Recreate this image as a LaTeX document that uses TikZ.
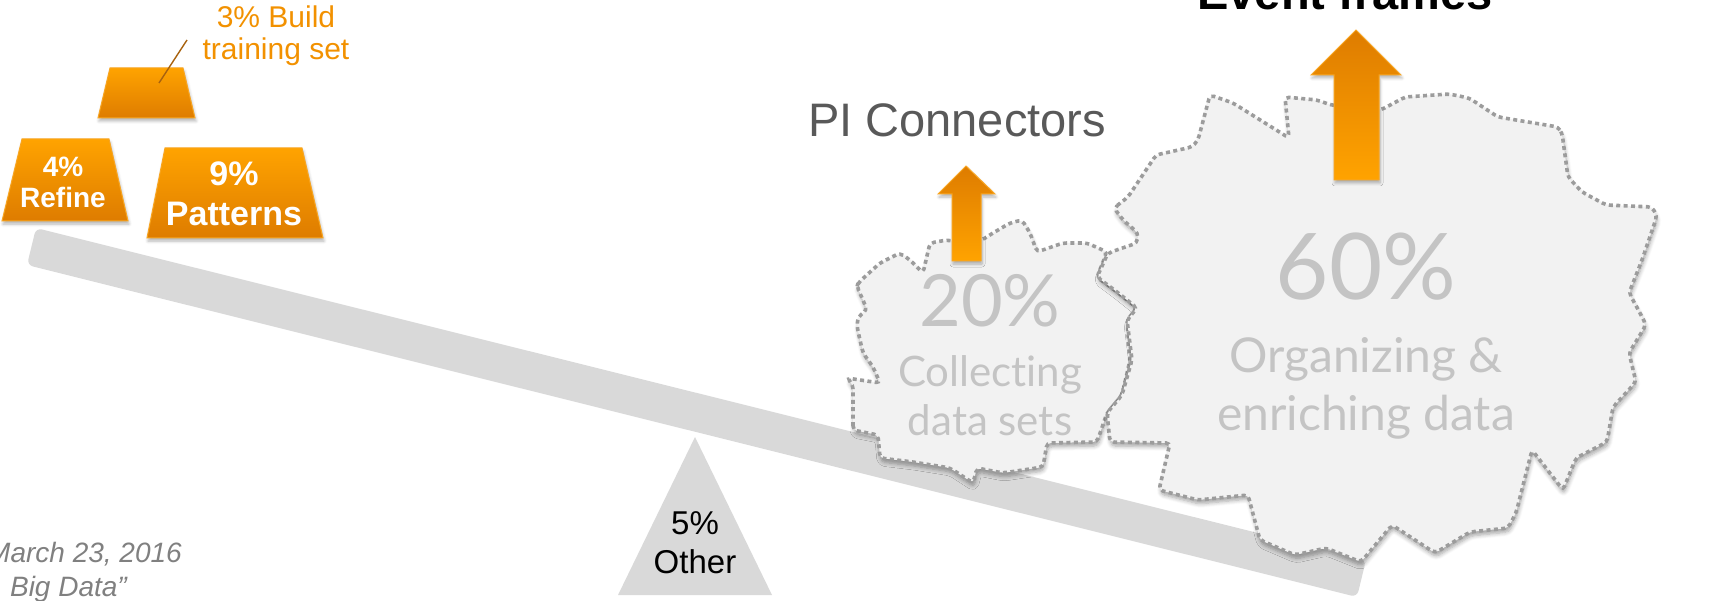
\documentclass[tikz,border=0pt]{standalone}
\usepackage{fontspec}
\setmainfont{Liberation Sans}
\newfontfamily\lato{Lato}[Ligatures={NoCommon}]
\usetikzlibrary{shadows,shadows.blur}
\definecolor{beamgray}{HTML}{D9D9D9}
\definecolor{orTop}{HTML}{FFA300}
\definecolor{orBot}{HTML}{DE7C00}
\definecolor{orEdge}{HTML}{F8A521}
\definecolor{blobFill}{HTML}{F2F2F2}
\definecolor{blobLine}{HTML}{9C9C9C}
\definecolor{blobText}{HTML}{C4C4C4}
\definecolor{piText}{HTML}{595959}
\definecolor{noteText}{HTML}{808080}
\definecolor{buildText}{HTML}{F29100}
\definecolor{leaderCol}{HTML}{A8620F}
\tikzset{
  fs/.style={font=\fontsize{#1}{#1}\selectfont},
  sh/.style={blur shadow={shadow xshift=1pt, shadow yshift=-3pt, shadow opacity=30, shadow blur steps=5, shadow blur radius=3pt}},
  trap/.style={top color=orTop, bottom color=orBot, draw=orEdge, line width=1pt, sh},
  uparrow/.style={top color=orBot, bottom color=orTop, draw=orEdge, line width=1pt, sh},
  blob/.style={fill=blobFill, draw=blobLine, line width=3.6pt, dash pattern=on 4pt off 3.4pt,
    rounded corners=4pt, blur shadow={shadow xshift=1pt, shadow yshift=-4pt, shadow opacity=35, shadow blur steps=6, shadow blur radius=4pt}},
  trtext/.style={text=white, inner sep=0pt, anchor=base, font=\bfseries\fontsize{#1}{#1}\selectfont},
  blobtext/.style={text=blobText, inner sep=0pt, anchor=base, font=\lato\fontsize{#1}{#1}\selectfont},
}
\begin{document}
\begin{tikzpicture}[x=1pt,y=-1pt]
\useasboundingbox (0,0) rectangle (1729,601);
\clip (0,0) rectangle (1729,601);

% beam and fulcrum
\fill[beamgray, rounded corners=6pt] (27,265) -- (36,228) -- (1366,560) -- (1357,597) -- cycle;
\fill[beamgray] (695,437) -- (772,595) -- (618,595) -- cycle;
\node[fs=33, inner sep=0pt, anchor=base] (otherA) at (695,534) {5\%};
\node[fs=33, inner sep=0pt, anchor=base] (otherB) at (695,573) {Other};

% trapezoids
\path[trap] (110,68) -- (183,68) -- (195,118) -- (98,118) -- cycle;
\path[trap] (22,139) -- (109,139) -- (128,221) -- (2,221) -- cycle;
\path[trap] (165,148) -- (302,148) -- (323,238) -- (147,238) -- cycle;
\node[trtext=28] (refA) at (63,177) {4\%};
\node[trtext=28] (refB) at (63,208) {Refine};
\node[trtext=34] (patA) at (234,186) {9\%};
\node[trtext=34] (patB) at (234,226) {Patterns};

% build training set label
\node[fs=30, text=buildText, inner sep=0pt, anchor=base] (buildA) at (276,28) {3\% Build};
\node[fs=30, text=buildText, inner sep=0pt, anchor=base] (buildB) at (276,60) {training set};
\coordinate (leadS) at (187,40);
\coordinate (leadE) at (159,83);
\draw[leaderCol, line width=1.4pt] (leadS) -- (leadE);

% note text (cut at left border)
\node[text=noteText, inner sep=0pt, anchor=base east, font=\itshape\fontsize{28}{28}\selectfont] (noteA) at (182,562) {March 23, 2016};
\node[text=noteText, inner sep=0pt, anchor=base east, font=\itshape\fontsize{28}{28}\selectfont] (noteB) at (127,596) {Big Data”};

% small blob
\path[blob] (853,430) -- (853,385) -- (847,378) -- (880,383) -- (873,367) -- (863,353)
  -- (857,327) -- (858,317) -- (867,310) -- (863,300) -- (857,287) -- (858,283)
  -- (880,263) -- (900,253) -- (910,260) -- (923,273) -- (930,243) -- (947,240)
  -- (965,243) -- (982,240) -- (993,233) -- (1010,223) -- (1022,220) -- (1030,233)
  -- (1037,252) -- (1063,243) -- (1087,243) -- (1107,252) -- (1097,277) -- (1117,292)
  -- (1137,308) -- (1127,320) -- (1130,360) -- (1122,395) -- (1107,413) -- (1097,442)
  -- (1047,443) -- (1043,467) -- (1003,473) -- (977,468) -- (973,483) -- (950,468)
  -- (913,462) -- (880,458) -- (878,435) -- cycle;

% big blob
\path[blob] (1114,208) -- (1128,197) -- (1156,155) -- (1192,147) -- (1198,140) -- (1210,95)
  -- (1233,103) -- (1289,138) -- (1285,97) -- (1317,100) -- (1331,105) -- (1356,108)
  -- (1381,110) -- (1405,97) -- (1449,94) -- (1469,98) -- (1498,117) -- (1558,127)
  -- (1562,133) -- (1568,177) -- (1582,192) -- (1606,205) -- (1652,207) -- (1657,216)
  -- (1642,260) -- (1629,293) -- (1640,313) -- (1646,325) -- (1629,353)
  -- (1636,382) -- (1613,407) -- (1607,442) -- (1576,458) -- (1563,490) -- (1532,450)
  -- (1516,513) -- (1508,528) -- (1470,532) -- (1435,553) -- (1392,525) -- (1361,562)
  -- (1326,548) -- (1295,555) -- (1260,540) -- (1248,495) -- (1198,500) -- (1159,490)
  -- (1170,443) -- (1110,442) -- (1107,413) -- (1122,395) -- (1132,360) -- (1127,320)
  -- (1137,308) -- (1117,292) -- (1097,277) -- (1108,253) -- (1137,243) -- (1138,233)
  -- (1123,220) -- cycle;

% blob texts
\node[blobtext=72] (p20) at (990,327) {20\%};
\node[blobtext=42] (colA) at (990,387) {Collecting};
\node[blobtext=42] (colB) at (990,435) {data sets};
\node[blobtext=92] (p60) at (1366,300) {60\%};
\node[blobtext=48] (orgA) at (1366,373) {Organizing \&};
\node[blobtext=48] (orgB) at (1366,430) {enriching data};

% arrows
\path[uparrow] (966,166) -- (995,194) -- (981,194) -- (981,261) -- (952,261) -- (952,194) -- (938,194) -- cycle;
\path[uparrow] (1356,30) -- (1401,75) -- (1379,75) -- (1379,180) -- (1334,180) -- (1334,75) -- (1311,75) -- cycle;

% headings
\node[fs=47, text=piText, inner sep=0pt, anchor=base] (pic) at (957,137) {PI Connectors};
\node[inner sep=0pt, anchor=base, font=\bfseries\fontsize{47}{47}\selectfont] (evf) at (1345,10) {Event frames};
\end{tikzpicture}
\end{document}
